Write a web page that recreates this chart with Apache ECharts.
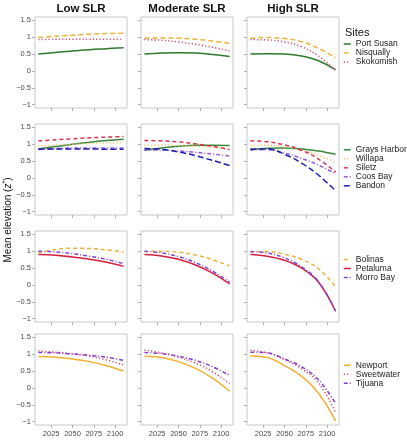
<!DOCTYPE html>
<html><head><meta charset="utf-8">
<script src="https://cdn.jsdelivr.net/npm/echarts@6/dist/echarts.min.js"></script>
<style>html,body{margin:0;padding:0;background:#fff}#c{width:407px;height:440px}</style>
</head><body><div id="c"></div>
<script>
// ---- data ----
const years = [2010, 2030, 2050, 2070, 2090, 2110];
const scenarios = ['Low SLR', 'Moderate SLR', 'High SLR'];
const xTicks = [2025, 2050, 2075, 2100];
const yTicks = [-1, -0.5, 0, 0.5, 1, 1.5];
// each site: [low, moderate, high]
const portSusan  = [[0.50,0.55,0.59,0.63,0.66,0.69],[0.50,0.53,0.54,0.53,0.49,0.43],[0.50,0.51,0.50,0.44,0.30,0.03]];
const nisqually  = [[0.99,1.03,1.06,1.09,1.11,1.12],[0.97,0.98,0.97,0.94,0.89,0.82],[0.97,0.99,0.96,0.87,0.67,0.39]];
const skokomish  = [[0.93,0.94,0.94,0.94,0.94,0.94],[0.93,0.91,0.86,0.79,0.70,0.59],[0.93,0.92,0.86,0.72,0.44,0.02]];
const graysHarbor= [[0.86,0.93,1.00,1.06,1.11,1.15],[0.82,0.89,0.94,0.97,0.97,0.96],[0.83,0.88,0.89,0.86,0.80,0.70]];
const willapa    = [[0.95,0.97,1.00,1.02,1.04,1.05],[0.97,0.98,0.96,0.94,0.91,0.87],[0.96,0.97,0.92,0.82,0.67,0.46]];
const siletz     = [[1.10,1.13,1.16,1.19,1.21,1.23],[1.11,1.10,1.07,1.01,0.94,0.84],[1.10,1.07,0.98,0.82,0.56,0.17]];
const coosBay    = [[0.84,0.87,0.89,0.89,0.89,0.89],[0.83,0.83,0.80,0.76,0.71,0.65],[0.83,0.84,0.74,0.58,0.38,0.12]];
const bandon     = [[0.85,0.86,0.86,0.86,0.85,0.85],[0.87,0.85,0.77,0.66,0.52,0.37],[0.86,0.86,0.70,0.44,0.08,-0.38]];
const bolinas    = [[0.95,1.05,1.09,1.08,1.04,0.98],[0.99,1.00,0.97,0.89,0.75,0.56],[0.98,0.99,0.91,0.76,0.48,-0.05]];
const petaluma   = [[0.90,0.88,0.83,0.76,0.67,0.55],[0.90,0.86,0.76,0.59,0.35,0.03],[0.90,0.85,0.73,0.50,0.08,-0.78]];
const morroBay   = [[1.00,0.98,0.93,0.85,0.76,0.63],[1.00,0.95,0.84,0.66,0.41,0.08],[0.99,0.95,0.80,0.54,0.10,-0.78]];
const newport    = [[0.93,0.91,0.86,0.78,0.66,0.50],[0.94,0.90,0.78,0.58,0.29,-0.10],[0.95,0.90,0.66,0.35,-0.16,-0.98]];
const sweetwater = [[1.10,1.06,1.01,0.94,0.83,0.68],[1.12,1.04,0.91,0.74,0.48,0.13],[1.12,1.04,0.84,0.57,0.15,-0.73]];
const tijuana    = [[1.05,1.04,1.01,0.97,0.91,0.82],[1.05,1.02,0.94,0.82,0.63,0.37],[1.06,1.04,0.86,0.63,0.24,-0.46]];

// ---- styling ----
const rows = [
  { top: 17, legendTop: 39.5, sites: [
    { name: 'Port Susan', data: portSusan, color: '#2e7a2e', type: 'solid' },
    { name: 'Nisqually', data: nisqually, color: '#efb23a', type: [5, 3] },
    { name: 'Skokomish', data: skokomish, color: '#d44a72', type: [1.2, 2.2] } ] },
  { top: 124, legendTop: 145.3, sites: [
    { name: 'Grays Harbor', data: graysHarbor, color: '#3a863a', type: 'solid' },
    { name: 'Willapa', data: willapa, color: '#f5c46a', type: [1.2, 2.2] },
    { name: 'Siletz', data: siletz, color: '#d8344a', type: [4, 3] },
    { name: 'Coos Bay', data: coosBay, color: '#9a55e0', type: [4, 2, 1, 2] },
    { name: 'Bandon', data: bandon, color: '#1c1cb0', type: [6, 3] } ] },
  { top: 231, legendTop: 255, sites: [
    { name: 'Bolinas', data: bolinas, color: '#efb23a', type: [4, 3] },
    { name: 'Petaluma', data: petaluma, color: '#d42040', type: 'solid' },
    { name: 'Morro Bay', data: morroBay, color: '#8048d0', type: [4, 2, 1, 2] } ] },
  { top: 334, legendTop: 360.7, sites: [
    { name: 'Newport', data: newport, color: '#f0b030', type: 'solid' },
    { name: 'Sweetwater', data: sweetwater, color: '#d44a72', type: [1.2, 2.2] },
    { name: 'Tijuana', data: tijuana, color: '#8a3ad0', type: [4, 2, 1, 2] } ] }
];
const colLeft = [35, 141, 247];
const panelW = 92, panelH = 91;

const grid = [], xAxis = [], yAxis = [], series = [], legend = [];
const fmt = v => (v < 0 ? '\u2212' + Math.abs(v) : String(v));
rows.forEach((row, r) => {
  scenarios.forEach((sc, c) => {
    const gi = grid.length;
    grid.push({ left: colLeft[c], top: row.top, width: panelW, height: panelH,
      show: true, borderColor: '#c8c8c8', borderWidth: 1, backgroundColor: '#fff' });
    xAxis.push({ type: 'value', gridIndex: gi, min: 2006, max: 2114, position: 'bottom',
      axisLine: { show: false, onZero: false }, splitLine: { show: false },
      axisTick: { show: true, length: 3, lineStyle: { color: '#b0b0b0' }, customValues: xTicks },
      axisLabel: { show: r === 3, customValues: xTicks, formatter: v => String(v), fontSize: 7.5,
        color: '#4d4d4d', margin: 5, fontFamily: 'Liberation Sans' } });
    yAxis.push({ type: 'value', gridIndex: gi, min: -1.1, max: 1.6, position: 'left',
      axisLine: { show: false, onZero: false }, splitLine: { show: false },
      axisTick: { show: true, length: 3, lineStyle: { color: '#b0b0b0' }, customValues: yTicks },
      axisLabel: { show: c === 0, customValues: yTicks, formatter: fmt, fontSize: 7.5, color: '#4d4d4d',
        margin: 4, fontFamily: 'Liberation Sans' } });
    row.sites.forEach(s => {
      series.push({ type: 'line', name: s.name, xAxisIndex: gi, yAxisIndex: gi,
        data: years.map((y, i) => [y, s.data[c][i]]),
        symbol: 'none', smooth: 0.4, silent: true,
        lineStyle: { color: s.color, width: 1.5, type: s.type }, itemStyle: { color: s.color } });
    });
  });
  legend.push({ orient: 'vertical', left: 343, top: row.legendTop, itemWidth: 7, itemHeight: 8.6,
    itemGap: 0, padding: 0, data: row.sites.map(s => s.name),
    itemStyle: { opacity: 0 },
    lineStyle: { width: 1.5 },
    textStyle: { fontSize: 8.5, lineHeight: 8.6, color: '#222', fontFamily: 'Liberation Sans' } });
});

const graphic = [
  ...scenarios.map((sc, c) => ({ type: 'text', x: colLeft[c] + panelW / 2, y: 9,
    style: { text: sc, align: 'center', verticalAlign: 'middle', fill: '#111',
      font: 'bold 11.5px "Liberation Sans"' } })),
  { type: 'text', x: 345, y: 33, style: { text: 'Sites', align: 'left', verticalAlign: 'middle',
    fill: '#111', font: '11px "Liberation Sans"' } },
  { type: 'text', x: 8, y: 220, rotation: Math.PI / 2,
    style: { text: '{a|Mean elevation (}{b|z}{c|*}{a|)}', align: 'center', verticalAlign: 'middle',
      rich: { a: { fontSize: 10, fontFamily: 'Liberation Sans', fill: '#111' },
              b: { fontSize: 10, fontStyle: 'italic', fontFamily: 'Liberation Sans', fill: '#111' },
              c: { fontSize: 7, fontFamily: 'Liberation Sans', fill: '#111', padding: [0, 0, 5, 0] } } } }
];

const chart = echarts.init(document.getElementById('c'), null, { renderer: 'canvas' });
chart.setOption({ animation: false, backgroundColor: '#fff', grid, xAxis, yAxis, series, legend, graphic });
</script></body></html>
